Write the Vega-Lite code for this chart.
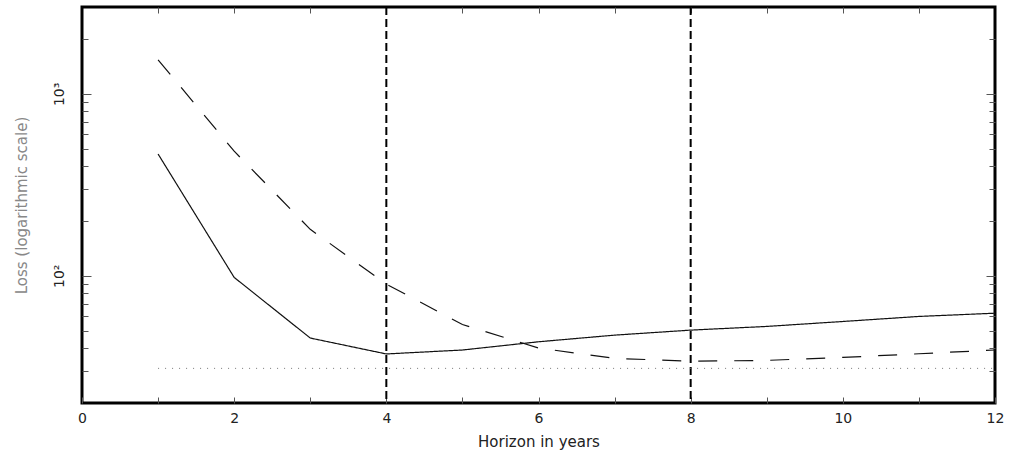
{
  "$schema": "https://vega.github.io/schema/vega-lite/v6.json",
  "width": 913,
  "height": 396,
  "autosize": {"type": "none"},
  "padding": {"left": 82, "top": 7, "right": 21, "bottom": 54},
  "background": "white",
  "config": {
    "view": {"stroke": "black", "strokeWidth": 3},
    "axis": {
      "grid": false,
      "domain": false,
      "labelFont": "DejaVu Sans",
      "titleFont": "DejaVu Sans",
      "titleFontWeight": "normal",
      "tickColor": "#555",
      "tickWidth": 1,
      "labelColor": "#222",
      "titleColor": "#222"
    }
  },
  "datasets": {
    "lines": [
      {"horizon": 1, "loss": 467, "series": "solid"},
      {"horizon": 2, "loss": 98, "series": "solid"},
      {"horizon": 3, "loss": 45.5, "series": "solid"},
      {"horizon": 4, "loss": 37.2, "series": "solid"},
      {"horizon": 5, "loss": 39.1, "series": "solid"},
      {"horizon": 6, "loss": 43.4, "series": "solid"},
      {"horizon": 7, "loss": 47.2, "series": "solid"},
      {"horizon": 8, "loss": 50.3, "series": "solid"},
      {"horizon": 9, "loss": 52.7, "series": "solid"},
      {"horizon": 10, "loss": 56.1, "series": "solid"},
      {"horizon": 11, "loss": 59.8, "series": "solid"},
      {"horizon": 12, "loss": 62.3, "series": "solid"},
      {"horizon": 1, "loss": 1538, "series": "dashed"},
      {"horizon": 2, "loss": 484, "series": "dashed"},
      {"horizon": 3, "loss": 180, "series": "dashed"},
      {"horizon": 4, "loss": 90, "series": "dashed"},
      {"horizon": 5, "loss": 54, "series": "dashed"},
      {"horizon": 6, "loss": 40.1, "series": "dashed"},
      {"horizon": 7, "loss": 35.2, "series": "dashed"},
      {"horizon": 8, "loss": 33.9, "series": "dashed"},
      {"horizon": 9, "loss": 34.3, "series": "dashed"},
      {"horizon": 10, "loss": 35.6, "series": "dashed"},
      {"horizon": 11, "loss": 37.3, "series": "dashed"},
      {"horizon": 12, "loss": 39.1, "series": "dashed"},
      {"horizon": 1, "loss": 31, "series": "dotted"},
      {"horizon": 2, "loss": 31, "series": "dotted"},
      {"horizon": 3, "loss": 31, "series": "dotted"},
      {"horizon": 4, "loss": 31, "series": "dotted"},
      {"horizon": 5, "loss": 31, "series": "dotted"},
      {"horizon": 6, "loss": 31, "series": "dotted"},
      {"horizon": 7, "loss": 31, "series": "dotted"},
      {"horizon": 8, "loss": 31, "series": "dotted"},
      {"horizon": 9, "loss": 31, "series": "dotted"},
      {"horizon": 10, "loss": 31, "series": "dotted"},
      {"horizon": 11, "loss": 31, "series": "dotted"},
      {"horizon": 12, "loss": 31, "series": "dotted"}
    ],
    "refs": [
      {"h": 4},
      {"h": 8}
    ]
  },
  "layer": [
    {
      "data": {"name": "refs"},
      "mark": {"type": "rule", "strokeDash": [8, 4], "strokeWidth": 2, "color": "black"},
      "encoding": {
        "x": {"field": "h", "type": "quantitative", "scale": {"domain": [0, 12], "nice": false}, "axis": null}
      }
    },
    {
      "data": {"name": "lines"},
      "transform": [{"filter": "datum.series != 'dotted'"}],
      "mark": {"type": "line", "strokeWidth": 1.2, "color": "#111"},
      "encoding": {
        "x": {
          "field": "horizon", "type": "quantitative",
          "scale": {"domain": [0, 12], "nice": false},
          "axis": {
            "orient": "bottom",
            "values": [0, 1, 2, 3, 4, 5, 6, 7, 8, 9, 10, 11, 12],
            "tickSize": -6,
            "labelExpr": "datum.value % 2 == 0 ? datum.label : ''",
            "labelFontSize": 14,
            "labelPadding": 14,
            "labelFlush": false,
            "title": "Horizon in years",
            "titleFontSize": 15,
            "titlePadding": 9
          }
        },
        "y": {
          "field": "loss", "type": "quantitative",
          "scale": {"type": "log", "domain": [20, 3000], "nice": false},
          "axis": {
            "orient": "left",
            "values": [30, 40, 50, 60, 70, 80, 90, 100, 200, 300, 400, 500, 600, 700, 800, 900, 1000, 2000],
            "tickSize": {"condition": {"test": "datum.value == 100 || datum.value == 1000", "value": -9}, "value": -6},
            "labelExpr": "datum.value == 100 ? '10²' : datum.value == 1000 ? '10³' : ''",
            "labelAngle": -90,
            "labelFontSize": 14,
            "labelPadding": 25,
            "title": "Loss (logarithmic scale)",
            "titleColor": "#888",
            "titleFontSize": 15,
            "titlePadding": 23
          }
        },
        "strokeDash": {
          "field": "series", "type": "nominal",
          "scale": {"domain": ["solid", "dashed"], "range": [[1, 0], [19, 17]]},
          "legend": null
        }
      }
    },
    {
      "data": {"name": "lines"},
      "transform": [{"filter": "datum.series == 'dotted'"}],
      "mark": {"type": "line", "strokeWidth": 1, "color": "#777", "strokeDash": [1, 6]},
      "encoding": {
        "x": {
          "field": "horizon", "type": "quantitative",
          "scale": {"domain": [0, 12], "nice": false},
          "axis": {
            "orient": "top",
            "values": [1, 2, 3, 4, 5, 6, 7, 8, 9, 10, 11],
            "tickSize": -6,
            "labels": false,
            "title": null
          }
        },
        "y": {
          "field": "loss", "type": "quantitative",
          "scale": {"type": "log", "domain": [20, 3000], "nice": false},
          "axis": {
            "orient": "right",
            "values": [30, 40, 50, 60, 70, 80, 90, 100, 200, 300, 400, 500, 600, 700, 800, 900, 1000, 2000],
            "tickSize": {"condition": {"test": "datum.value == 100 || datum.value == 1000", "value": -9}, "value": -6},
            "labels": false,
            "title": null
          }
        }
      }
    }
  ],
  "resolve": {"axis": {"x": "independent", "y": "independent"}}
}
